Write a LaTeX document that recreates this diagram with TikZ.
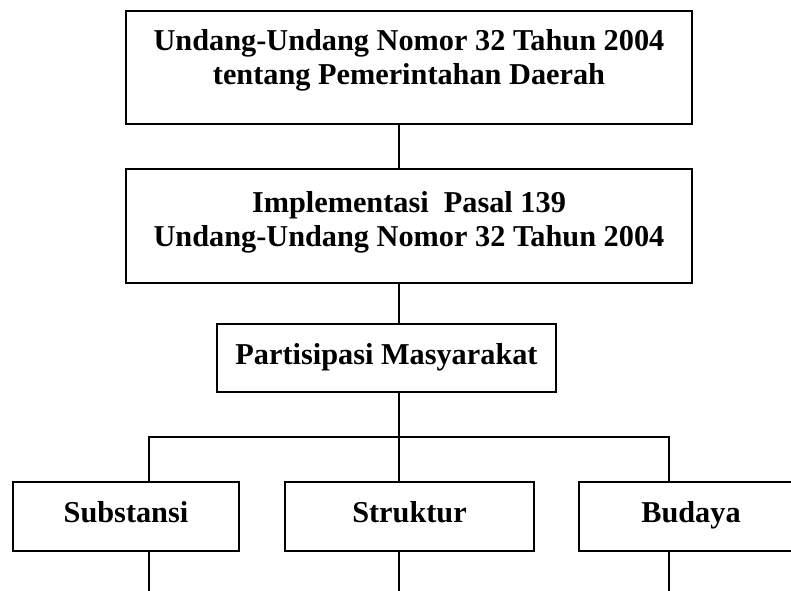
\documentclass[tikz,border=0pt]{standalone}
\usepackage{fontspec}
\setmainfont{Liberation Serif}
\usetikzlibrary{positioning}

\begin{document}
\begin{tikzpicture}[
    x=1pt, y=-1pt,
    box/.style={draw, line width=1.2pt, align=center, inner sep=0pt, font=\fontsize{30.3}{34}\selectfont\bfseries},
    tag/.style={box, minimum height=69pt, text height=21pt, text depth=9pt},
    link/.style={line width=1.2pt, line cap=rect}
  ]
    \useasboundingbox (0,0) rectangle (791,590);
    \clip (0,0) rectangle (791,590);

    \node[box, minimum width=566pt, inner ysep=18pt] (law) at (409,67.5) {\parbox[c][77pt][t]{560pt}{\centering Undang-Undang Nomor 32 Tahun 2004\\tentang Pemerintahan Daerah}};

    \node[box, minimum width=566pt, inner ysep=22pt] (impl) at (409,226) {\parbox[c][70pt][t]{560pt}{\centering Implementasi\ \ Pasal 139\\Undang-Undang Nomor 32 Tahun 2004}};

    \node[tag, minimum width=339pt, minimum height=68pt] (part) at (386.5,358) {Partisipasi Masyarakat};

    \node[tag, minimum width=226pt] (subst) at (126,516.5) {Substansi};
    \node[tag, minimum width=249pt] (strukt) at (409.5,516.5) {Struktur};
    \node[tag, minimum width=224pt] (budaya) at (691,516.5) {Budaya};

    \coordinate (spine) at (399,0);
    \coordinate (fork) at (399,437);
    \coordinate (forkl) at (149,437);
    \coordinate (forkr) at (669,437);
    \coordinate (edge) at (0,600);

    \draw[link] (law.south -| spine) -- (impl.north -| spine);
    \draw[link] (impl.south -| spine) -- (part.north -| spine);
    \draw[link] (part.south -| spine) -- (fork);
    \draw[link] (forkl) -- (forkr);
    \draw[link] (forkl) -- (forkl |- subst.north);
    \draw[link] (fork) -- (fork |- strukt.north);
    \draw[link] (forkr) -- (forkr |- budaya.north);

    % lines running on below the bottom row
    \draw[link] (forkl |- subst.south) -- (forkl |- edge);
    \draw[link] (fork |- strukt.south) -- (fork |- edge);
    \draw[link] (forkr |- budaya.south) -- (forkr |- edge);
\end{tikzpicture}
\end{document}
